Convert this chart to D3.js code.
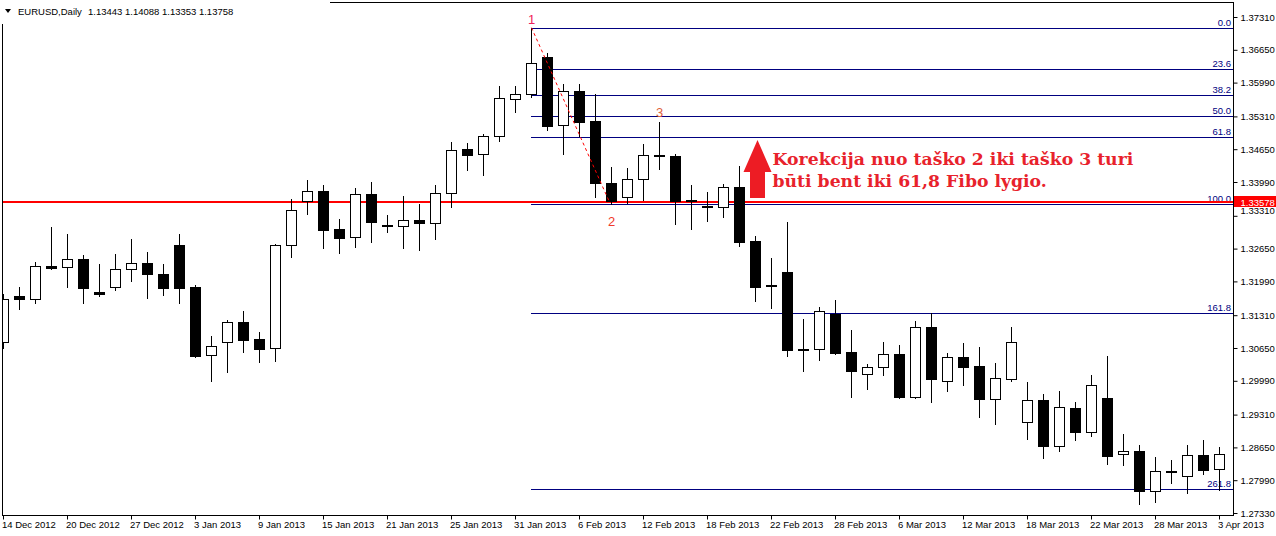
<!DOCTYPE html>
<html><head><meta charset="utf-8">
<script src="https://cdn.jsdelivr.net/npm/d3@7"></script>
<style>body{margin:0;background:#fff;overflow:hidden} svg{display:block}</style>
</head><body>
<svg id="c" width="1276" height="536"></svg>
<script>
const dates = [
"14 Dec 2012","17 Dec 2012","18 Dec 2012","19 Dec 2012","20 Dec 2012","21 Dec 2012","24 Dec 2012","26 Dec 2012","27 Dec 2012","28 Dec 2012","31 Dec 2012",
"2 Jan 2013","3 Jan 2013","4 Jan 2013","7 Jan 2013","8 Jan 2013","9 Jan 2013","10 Jan 2013","11 Jan 2013","14 Jan 2013","15 Jan 2013","16 Jan 2013","17 Jan 2013","18 Jan 2013","21 Jan 2013","22 Jan 2013","23 Jan 2013","24 Jan 2013","25 Jan 2013","28 Jan 2013","29 Jan 2013","30 Jan 2013","31 Jan 2013",
"1 Feb 2013","4 Feb 2013","5 Feb 2013","6 Feb 2013","7 Feb 2013","8 Feb 2013","11 Feb 2013","12 Feb 2013","13 Feb 2013","14 Feb 2013","15 Feb 2013","18 Feb 2013","19 Feb 2013","20 Feb 2013","21 Feb 2013","22 Feb 2013","25 Feb 2013","26 Feb 2013","27 Feb 2013","28 Feb 2013",
"1 Mar 2013","4 Mar 2013","5 Mar 2013","6 Mar 2013","7 Mar 2013","8 Mar 2013","11 Mar 2013","12 Mar 2013","13 Mar 2013","14 Mar 2013","15 Mar 2013","18 Mar 2013","19 Mar 2013","20 Mar 2013","21 Mar 2013","22 Mar 2013","25 Mar 2013","26 Mar 2013","27 Mar 2013","28 Mar 2013","29 Mar 2013",
"1 Apr 2013","2 Apr 2013","3 Apr 2013"];

const open = [1.30771,1.31697,1.31636,1.32300,1.32280,1.32441,1.31777,1.31878,1.32240,1.32361,1.32139,1.32723,1.31878,1.30509,1.30771,1.31173,1.30831,1.30650,1.32723,1.33608,1.33809,1.33045,1.32884,1.33749,1.33125,1.33105,1.33226,1.33165,1.33769,1.34654,1.34554,1.34916,1.35660,1.35761,1.36505,1.35137,1.35821,1.35218,1.33970,1.33688,1.34051,1.34533,1.34513,1.33628,1.33507,1.33487,1.33890,1.32803,1.31918,1.32179,1.30630,1.30630,1.31334,1.30570,1.30127,1.30268,1.30530,1.29664,1.31073,1.29986,1.30469,1.30288,1.29624,1.30027,1.29161,1.29604,1.28679,1.29443,1.28960,1.29644,1.28518,1.28578,1.27773,1.28176,1.28075,1.28497,1.28216];
const high = [1.31737,1.31878,1.32381,1.33085,1.32944,1.32521,1.32340,1.32542,1.32843,1.32582,1.32340,1.32944,1.31918,1.30892,1.31214,1.31395,1.30972,1.32733,1.33648,1.34030,1.33930,1.33246,1.33870,1.33990,1.33326,1.33709,1.33548,1.33930,1.34795,1.34775,1.34956,1.35922,1.35922,1.37095,1.36586,1.35962,1.35962,1.35761,1.34292,1.34272,1.34755,1.35197,1.34554,1.33930,1.33789,1.33950,1.34312,1.32904,1.32461,1.33185,1.31234,1.31475,1.31616,1.31012,1.30328,1.30771,1.30711,1.31194,1.31355,1.30550,1.30751,1.30670,1.30349,1.31073,1.29966,1.29725,1.29785,1.29564,1.30107,1.30489,1.28920,1.28699,1.28457,1.28397,1.28699,1.28799,1.28658];
const low = [1.30650,1.31435,1.31556,1.32240,1.31878,1.31556,1.31697,1.31817,1.31998,1.31656,1.31717,1.31556,1.30469,1.29986,1.30167,1.30570,1.30369,1.30389,1.32481,1.33346,1.32662,1.32562,1.32682,1.32783,1.32984,1.32662,1.32622,1.32843,1.33487,1.34232,1.34131,1.34815,1.35399,1.35700,1.35036,1.34554,1.34916,1.33688,1.33548,1.33568,1.33628,1.34252,1.33145,1.33045,1.33206,1.33286,1.32703,1.31596,1.31455,1.30489,1.30188,1.30409,1.30530,1.29664,1.29825,1.30107,1.29644,1.29644,1.29564,1.29785,1.29906,1.29262,1.29121,1.29986,1.28819,1.28437,1.28578,1.28799,1.28880,1.28316,1.28296,1.27512,1.27552,1.27934,1.27733,1.28115,1.27793];
const close = [1.31636,1.31636,1.32300,1.32260,1.32441,1.31857,1.31737,1.32240,1.32361,1.32139,1.31857,1.31857,1.30489,1.30691,1.31173,1.30811,1.30630,1.32723,1.33427,1.33809,1.33024,1.32864,1.33749,1.33185,1.33105,1.33226,1.33165,1.33769,1.34634,1.34533,1.34916,1.35680,1.35761,1.36385,1.35117,1.35821,1.35197,1.33970,1.33608,1.34051,1.34533,1.34513,1.33608,1.33608,1.33487,1.33890,1.32783,1.31878,1.31898,1.30610,1.30620,1.31395,1.30550,1.30188,1.30268,1.30530,1.29664,1.31073,1.30027,1.30469,1.30268,1.29624,1.30047,1.30771,1.29604,1.28679,1.29463,1.28960,1.29906,1.28477,1.28578,1.27773,1.28176,1.28166,1.28497,1.28196,1.28518];

const priceTicks = [1.37310,1.36650,1.35990,1.35310,1.34650,1.33990,1.33310,1.32650,1.31990,1.31310,1.30650,1.29990,1.29310,1.28650,1.27990,1.27330];
const dateTicks = ["14 Dec 2012","20 Dec 2012","27 Dec 2012","3 Jan 2013","9 Jan 2013","15 Jan 2013","21 Jan 2013","25 Jan 2013","31 Jan 2013","6 Feb 2013","12 Feb 2013","18 Feb 2013","22 Feb 2013","28 Feb 2013","6 Mar 2013","12 Mar 2013","18 Mar 2013","22 Mar 2013","28 Mar 2013","3 Apr 2013"];
const fibLevels = [0, 23.6, 38.2, 50, 61.8, 100, 161.8, 261.8];
const fibFrom = 33, fibTo = 38, point3 = 41;
const hLinePrice = 1.33578;
const headerSymbol = "EURUSD,Daily";
const headerPrices = "1.13443 1.14088 1.13353 1.13758";
const annotation = ["Korekcija nuo taško 2 iki taško 3 turi", "būti bent iki 61,8 Fibo lygio."];

const svg = d3.select('#c');
const L = 2.5, R = 1233.5, T = 2.5, B = 515.5;
const x = d3.scalePoint().domain(dates).range([3, 1219]);
const y = d3.scaleLinear().domain([1.27330, 1.37310]).range([513, 17]);
const px = d => Math.round(x(d));
const uiFont = "'Liberation Sans', Arial, sans-serif";

svg.append('defs').append('clipPath').attr('id','clip')
  .append('rect').attr('x', 3).attr('y', 3).attr('width', R - 3).attr('height', B - 3);

// fib lines
const fHi = high[fibFrom], fLo = low[fibTo];
const fibPrice = l => fHi - (fHi - fLo) * l / 100;
const fib = svg.append('g');
const fx0 = px(dates[fibFrom]);
fib.selectAll('line').data(fibLevels).join('line')
  .attr('x1', fx0).attr('x2', R)
  .attr('y1', l => Math.round(y(fibPrice(l))) + 0.5).attr('y2', l => Math.round(y(fibPrice(l))) + 0.5)
  .attr('stroke', '#000080').attr('stroke-width', 1);

// horizontal red line
const hy = Math.round(y(hLinePrice));
svg.append('line').attr('x1', L).attr('x2', R).attr('y1', hy).attr('y2', hy)
  .attr('stroke', '#ff0000').attr('stroke-width', 2);

// candles
const data = dates.map((d, i) => ({d, o: open[i], h: high[i], l: low[i], c: close[i]}));
const cg = svg.append('g').attr('clip-path', 'url(#clip)')
  .selectAll('g').data(data).join('g');
cg.append('line')
  .attr('x1', d => px(d.d) + 0.5).attr('x2', d => px(d.d) + 0.5)
  .attr('y1', d => Math.round(y(d.h))).attr('y2', d => Math.round(y(d.l)) + 1)
  .attr('stroke', '#000').attr('stroke-width', 1);
cg.append('rect')
  .attr('x', d => px(d.d) - 4.5).attr('width', 10)
  .attr('y', d => Math.round(y(Math.max(d.o, d.c))) + 0.5)
  .attr('height', d => Math.max(1, Math.round(y(Math.min(d.o, d.c))) - Math.round(y(Math.max(d.o, d.c)))))
  .attr('fill', d => d.c >= d.o ? '#fff' : '#000')
  .attr('stroke', '#000').attr('stroke-width', 1);

// fib labels
fib.selectAll('text').data(fibLevels).join('text')
  .attr('x', 1231).attr('y', l => Math.round(y(fibPrice(l))) - 2)
  .attr('text-anchor', 'end').attr('fill', '#000080')
  .style('font', `9.5px ${uiFont}`).text(l => l.toFixed(1));

// dotted trend line 1 -> 2
svg.append('line')
  .attr('x1', px(dates[fibFrom]) + 0.5).attr('y1', y(fHi))
  .attr('x2', px(dates[fibTo]) - 2).attr('y2', y(fLo) - 3)
  .attr('stroke', '#ff0000').attr('stroke-width', 1).attr('stroke-dasharray', '3,3');

// point labels
const pl = [
  {t: '1', i: fibFrom, yy: y(fHi) - 4, col: '#f0205a'},
  {t: '2', i: fibTo, yy: y(fLo) + 22, col: '#f03a2a'},
  {t: '3', i: point3, yy: y(high[point3]) - 5, col: '#e0603a'}];
svg.selectAll('text.pl').data(pl).join('text').attr('class', 'pl')
  .attr('x', d => px(dates[d.i]) + 0.5).attr('y', d => d.yy)
  .attr('text-anchor', 'middle').attr('fill', d => d.col)
  .style('font', `13px ${uiFont}`).text(d => d.t);

// arrow
const ax = px(dates[47]) + 2.5;
const aBase = hy - 4, aTip = Math.round(y(fibPrice(61.8))) + 3, aHead = aTip + 32;
svg.append('path')
  .attr('d', `M${ax},${aTip} L${ax + 14},${aHead} L${ax + 7.5},${aHead} L${ax + 7.5},${aBase} L${ax - 7.5},${aBase} L${ax - 7.5},${aHead} L${ax - 14},${aHead} Z`)
  .attr('fill', '#ed1c24');

// annotation text
const annFont = "'DejaVu Serif', 'Liberation Serif', serif";
const ann = svg.append('g');
const t1 = ann.append('text').attr('x', ax + 15).attr('y', 165).attr('fill', '#e8222c')
  .style('font-family', annFont).style('font-weight', 'bold').style('font-size', '17px').text(annotation[0]);
const w = t1.node().getComputedTextLength();
const fs = Math.min(17.5, 17 * 361 / w);
t1.style('font-size', fs + 'px');
ann.append('text').attr('x', ax + 15).attr('y', 187).attr('fill', '#e8222c')
  .style('font-family', annFont).style('font-weight', 'bold').style('font-size', fs + 'px').text(annotation[1]);

// frame
svg.append('rect').attr('x', L).attr('y', T).attr('width', R - L).attr('height', B - T)
  .attr('fill', 'none').attr('stroke', '#000').attr('stroke-width', 1);

// right axis
const ya = svg.append('g').attr('transform', `translate(${R},0)`)
  .call(d3.axisRight(y).tickValues(priceTicks).tickSize(4).tickPadding(3).tickFormat(d3.format('.5f')));
ya.select('.domain').remove();
ya.selectAll('line').attr('stroke', '#000');
ya.selectAll('text').style('font', `9.5px ${uiFont}`).attr('fill', '#000')
  .attr('dy', '0.32em')
  .attr('y', d => d === 1.33310 ? -5 : 0);

// current line price label
svg.append('rect').attr('x', 1234).attr('y', hy - 6).attr('width', 42).attr('height', 11).attr('fill', '#ff0000');
svg.append('text').attr('x', 1240.5).attr('y', hy + 3.5).attr('fill', '#fff')
  .style('font', `9.5px ${uiFont}`).text(d3.format('.5f')(hLinePrice));

// bottom axis
const xa = svg.append('g').attr('transform', `translate(0,${B})`)
  .call(d3.axisBottom(x).tickValues(dateTicks).tickSize(4).tickFormat(d => d));
xa.select('.domain').remove();
xa.selectAll('.tick').attr('transform', d => `translate(${px(d) + 0.5},0)`);
xa.selectAll('line').attr('stroke', '#000');
xa.selectAll('text').style('font', `9.5px ${uiFont}`).attr('fill', '#000')
  .attr('text-anchor', 'start').attr('x', -1.5).attr('dy', 0).attr('y', 12);

// header
svg.append('rect').attr('x', 0).attr('y', 0).attr('width', 330).attr('height', 24).attr('fill', '#fff');
svg.append('path').attr('d', 'M5,9 L11,9 L8,13 Z').attr('fill', '#000');
svg.append('text').attr('x', 18).attr('y', 15).style('font', `9.5px ${uiFont}`).attr('fill', '#000').text(headerSymbol);
svg.append('text').attr('x', 88).attr('y', 15).style('font', `9.5px ${uiFont}`).attr('fill', '#000').text(headerPrices);
</script>
</body></html>
